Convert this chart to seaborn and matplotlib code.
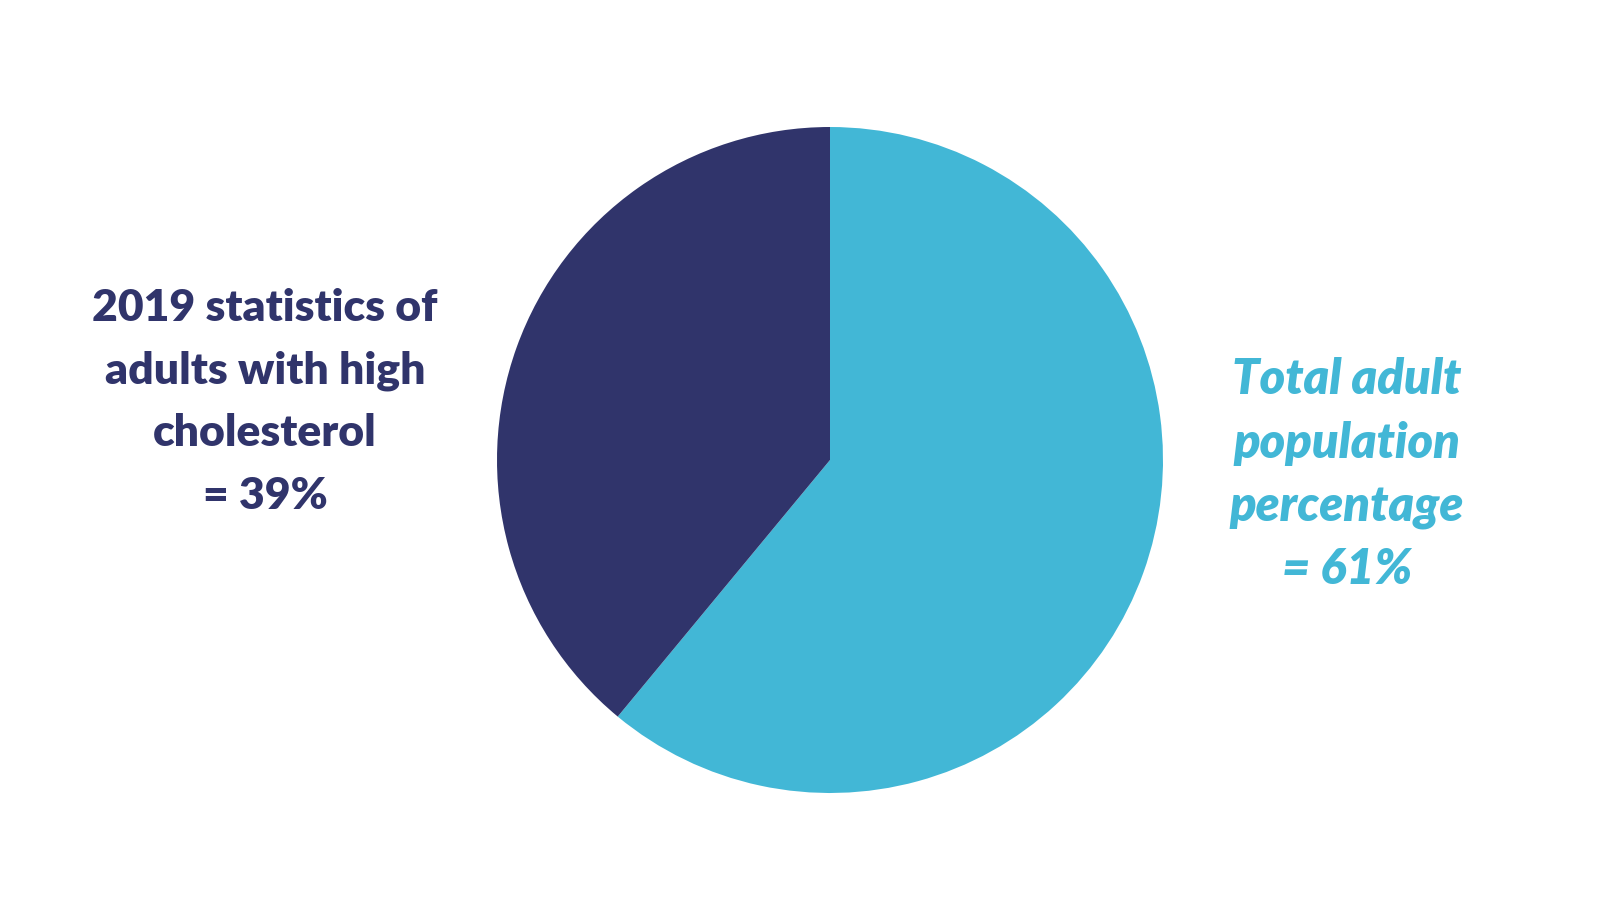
import matplotlib
matplotlib.use("Agg")
import matplotlib.pyplot as plt
import seaborn as sns

categories = ["Total adult population percentage", "2019 statistics of adults with high cholesterol"]
values = [61, 39]
colors = ["#42B7D6", "#30346B"]
left_lines = ["2019 statistics of", "adults with high", "cholesterol", "= 39%"]
right_lines = ["Total adult", "population", "percentage", "= 61%"]

sns.set_theme(style="white")
plt.rcParams['font.family'] = ['Lato', 'DejaVu Sans']

W, H = 1600, 900
fig = plt.figure(figsize=(16, 9), dpi=100)
fig.patch.set_facecolor("white")

cx, cy, r = 830, 460, 333
ax = fig.add_axes([(cx - r) / W, (H - cy - r) / H, 2 * r / W, 2 * r / H])
ax.pie(values, colors=colors, startangle=90, counterclock=False,
       wedgeprops=dict(linewidth=0, edgecolor="none"))
ax.set_xlim(-1, 1)
ax.set_ylim(-1, 1)
ax.set_axis_off()

left_y = [308, 371, 433, 496]
for txt, y in zip(left_lines, left_y):
    fig.text(265 / W, 1 - y / H, txt, ha="center", va="center",
             fontsize=32, fontweight="heavy", color=colors[1])

right_y = [379, 443, 507, 569]
for txt, y in zip(right_lines, right_y):
    fig.text(1347 / W, 1 - y / H, txt, ha="center", va="center",
             fontsize=35, fontweight="heavy", fontstyle="italic", color=colors[0])

fig.savefig("out.png", dpi=100, facecolor="white")
